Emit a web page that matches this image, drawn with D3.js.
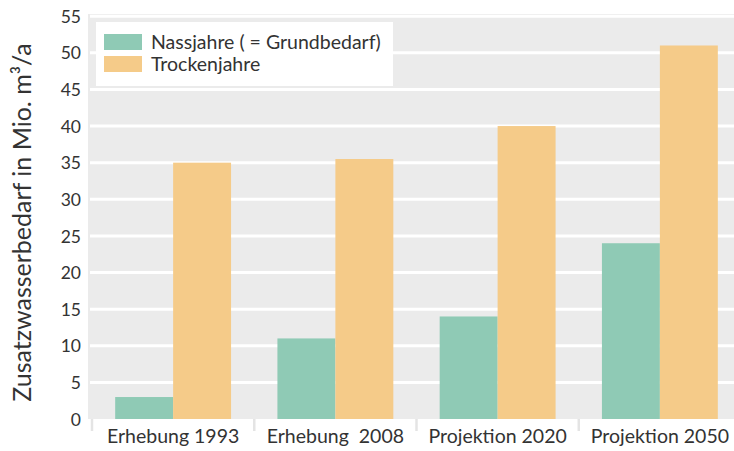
<!DOCTYPE html>
<html>
<head>
<meta charset="utf-8">
<script src="https://cdn.jsdelivr.net/npm/d3@7"></script>
<style>
  body { margin: 0; background: #fff; }
  svg text { font-family: Lato, "Open Sans", sans-serif; fill: #333; }
</style>
</head>
<body>
<svg id="chart" width="734" height="451"></svg>
<script>
var categories = ["Erhebung 1993", "Erhebung  2008", "Projektion 2020", "Projektion 2050"];
var seriesNames = ["Nassjahre ( = Grundbedarf)", "Trockenjahre"];
var nassValues = [3, 11, 14, 24];
var trockenValues = [35, 35.5, 40, 51];
var yTicks = [0, 5, 10, 15, 20, 25, 30, 35, 40, 45, 50, 55];

var width = 734, height = 451,
    margin = { top: 14, right: -7, bottom: 32, left: 88 },
    innerW = width - margin.left - margin.right,
    innerH = height - margin.top - margin.bottom,
    colors = d3.scaleOrdinal().domain(seriesNames).range(["#8fcab5", "#f5cb89"]);

var data = categories.map(function(c, i) {
    return { group: c, values: [nassValues[i], trockenValues[i]] };
});

var svg = d3.select("#chart");

var x = d3.scaleBand()
    .domain(categories)
    .range([4, innerW])
    .paddingInner(0)
    .paddingOuter(0);

var x1 = d3.scaleBand()
    .domain(seriesNames)
    .range([0, x.bandwidth()])
    .paddingInner(0)
    .paddingOuter(0.4);

var y = d3.scaleLinear()
    .domain([0, 55.3])
    .range([innerH, 0]);

var g = svg.append("g")
    .attr("transform", "translate(" + margin.left + "," + margin.top + ")");

// plot background
g.append("rect")
    .attr("x", 0)
    .attr("y", 0)
    .attr("width", innerW)
    .attr("height", innerH)
    .attr("fill", "#ebebeb");

// gridlines
g.append("g")
    .selectAll("line")
    .data(yTicks.filter(function(d) { return d > 0; }))
    .join("line")
    .attr("x1", 2)
    .attr("x2", innerW)
    .attr("y1", function(d) { return y(d); })
    .attr("y2", function(d) { return y(d); })
    .attr("stroke", "#fff")
    .attr("stroke-width", 3);

// y axis
var yAxis = g.append("g")
    .call(d3.axisLeft(y).tickValues(yTicks).tickSize(0).tickPadding(7));
yAxis.select(".domain").remove();
yAxis.selectAll("text")
    .style("font-size", "17.5px")
    .attr("dy", "0.35em");

// x axis, ticks at the band edges
var xAxis = g.append("g")
    .attr("transform", "translate(0," + innerH + ")")
    .call(d3.axisBottom(x).tickSize(0).tickPadding(10));
xAxis.select(".domain").remove();
xAxis.selectAll("text").style("font-size", "19.5px").style("white-space", "pre");
xAxis.selectAll("line.sep")
    .data(categories)
    .join("line")
    .attr("class", "sep")
    .attr("x1", function(d) { return x(d); })
    .attr("x2", function(d) { return x(d); })
    .attr("y1", 0)
    .attr("y2", 12)
    .attr("stroke", "#e4e4e4")
    .attr("stroke-width", 2.5);

// bars
var groups = g.append("g")
    .selectAll("g")
    .data(data)
    .join("g")
    .attr("transform", function(d) { return "translate(" + x(d.group) + ",0)"; });

groups.selectAll("rect")
    .data(function(d) { return d.values.map(function(v, i) { return { key: seriesNames[i], value: v }; }); })
    .join("rect")
    .attr("x", function(d) { return x1(d.key); })
    .attr("y", function(d) { return y(d.value); })
    .attr("width", x1.bandwidth())
    .attr("height", function(d) { return y(0) - y(d.value); })
    .attr("fill", function(d) { return colors(d.key); });

// y label
svg.append("text")
    .attr("transform", "translate(31," + (margin.top + innerH / 2 + 6) + ") rotate(-90)")
    .attr("text-anchor", "middle")
    .style("font-size", "25px")
    .text("Zusatzwasserbedarf in Mio. m³/a");

// legend
var legend = g.append("g").attr("transform", "translate(8,8)");
legend.append("rect")
    .attr("width", 297)
    .attr("height", 64)
    .attr("fill", "#fff");
seriesNames.forEach(function(s, i) {
    var item = legend.append("g").attr("transform", "translate(8," + (12 + i * 22) + ")");
    item.append("rect")
        .attr("width", 38)
        .attr("height", 16)
        .attr("fill", colors(s));
    item.append("text")
        .attr("x", 47)
        .attr("y", 8)
        .attr("dy", "0.35em")
        .style("font-size", "19.5px")
        .text(s);
});
</script>
</body>
</html>
